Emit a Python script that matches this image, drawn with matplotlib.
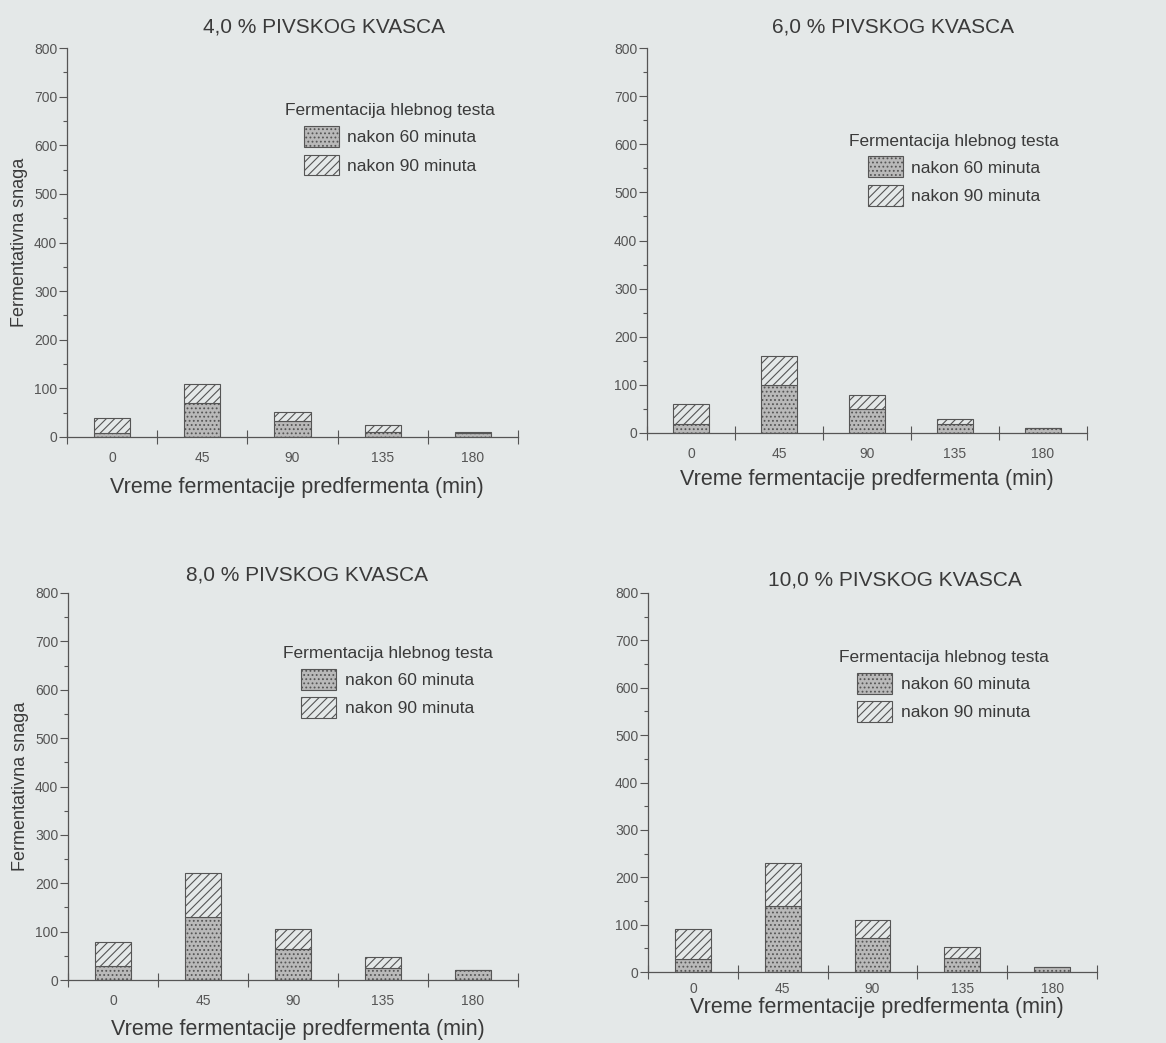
import matplotlib
matplotlib.use("Agg")
import matplotlib.pyplot as plt
from matplotlib.patches import Patch
from matplotlib.ticker import MultipleLocator, FixedLocator, NullFormatter

# Fermentative power of bread dough vs. pre-ferment fermentation time
times = ["0", "45", "90", "135", "180"]
yeast_levels = ["4,0 % PIVSKOG KVASCA", "6,0 % PIVSKOG KVASCA",
                "8,0 % PIVSKOG KVASCA", "10,0 % PIVSKOG KVASCA"]

# dough fermentation after 60 minutes
after60_4 = [8, 70, 32, 10, 8]
after60_6 = [18, 100, 50, 18, 10]
after60_8 = [28, 130, 65, 25, 20]
after60_10 = [28, 140, 72, 30, 10]

# dough fermentation after 90 minutes
after90_4 = [40, 110, 52, 24, 10]
after90_6 = [60, 160, 80, 30, 10]
after90_8 = [78, 222, 105, 48, 20]
after90_10 = [90, 230, 110, 52, 10]

series60 = [after60_4, after60_6, after60_8, after60_10]
series90 = [after90_4, after90_6, after90_8, after90_10]

label60 = "nakon 60 minuta"
label90 = "nakon 90 minuta"
legend_title = "Fermentacija hlebnog testa"
xlabel = "Vreme fermentacije predfermenta (min)"
ylabel = "Fermentativna snaga"

FONT = ["Liberation Sans Narrow", "Liberation Sans", "DejaVu Sans"]
plt.rcParams["font.family"] = FONT
plt.rcParams["hatch.linewidth"] = 0.8

BG = "#e4e8e8"
INK = "#555555"
GREY = "#b9b9b9"

W, H = 1166, 1043
fig = plt.figure(figsize=(W / 100, H / 100), dpi=100, facecolor=BG)

# axes boxes in pixels: (left, right, top, bottom)
boxes = [(67, 518, 48, 437), (647, 1087, 48, 433),
         (68, 518, 593, 980), (648, 1097, 593, 972)]
title_pos = [(0.57, 21), (0.56, 21), (0.53, 18), (0.55, 13)]
xlabel_pos = [(0.51, 50), (0.50, 47), (0.51, 50), (0.51, 36)]
tick_pad = [10, 10, 10, 7]
legend_pos = [(0.465, 0.88), (0.44, 0.80), (0.458, 0.885), (0.405, 0.872)]

for i, (l, r, t, b) in enumerate(boxes):
    ax = fig.add_axes([l / W, 1 - b / H, (r - l) / W, (b - t) / H])
    ax.set_facecolor(BG)
    x = list(range(len(times)))
    v60 = series60[i]
    v90 = series90[i]
    extra = [a - c for a, c in zip(v90, v60)]
    ax.bar(x, v60, width=0.4, color=GREY, edgecolor=INK, linewidth=0.8,
           hatch="....", zorder=2)
    ax.bar(x, extra, bottom=v60, width=0.4, color=BG, edgecolor=INK,
           linewidth=0.8, hatch="////", zorder=2)

    ax.set_xlim(-0.5, 4.5)
    ax.set_ylim(0, 800)
    for s in ("top", "right"):
        ax.spines[s].set_visible(False)
    for s in ("left", "bottom"):
        ax.spines[s].set_color(INK)
        ax.spines[s].set_linewidth(0.9)

    ax.yaxis.set_major_locator(MultipleLocator(100))
    ax.yaxis.set_minor_locator(MultipleLocator(50))
    ax.tick_params(axis="y", which="major", direction="out", length=6,
                   width=0.8, color=INK, labelsize=10, labelcolor="#555555",
                   pad=1)
    ax.tick_params(axis="y", which="minor", direction="out", length=3,
                   width=0.8, color=INK)

    ax.xaxis.set_major_locator(FixedLocator([-0.5, 0.5, 1.5, 2.5, 3.5, 4.5]))
    ax.xaxis.set_major_formatter(NullFormatter())
    ax.xaxis.set_minor_locator(FixedLocator(x))
    ax.set_xticklabels(times, minor=True)
    ax.tick_params(axis="x", which="major", direction="inout", length=10,
                   width=0.8, color=INK)
    ax.tick_params(axis="x", which="minor", length=0, labelsize=10,
                   labelcolor="#555555", pad=tick_pad[i])

    tx, ty = title_pos[i]
    ax.annotate(yeast_levels[i], xy=(tx, 1), xycoords="axes fraction",
                xytext=(0, ty * 0.72), textcoords="offset points",
                ha="center", va="center", fontsize=15, color="#3a3a3a")
    lx, ly = xlabel_pos[i]
    ax.annotate(xlabel, xy=(lx, 0), xycoords="axes fraction",
                xytext=(0, -ly * 0.72), textcoords="offset points",
                ha="center", va="center", fontsize=15.5, color="#3a3a3a")
    if i in (0, 2):
        ax.set_ylabel(ylabel, fontsize=13, color="#3a3a3a", labelpad=4)

    handles = [Patch(facecolor=GREY, edgecolor=INK, hatch="....",
                     linewidth=0.8, label=label60),
               Patch(facecolor=BG, edgecolor=INK, hatch="////",
                     linewidth=0.8, label=label90)]
    leg = ax.legend(handles=handles, title=legend_title, loc="upper left",
                    bbox_to_anchor=legend_pos[i], frameon=False,
                    fontsize=12.5, title_fontsize=12.5, handlelength=2.0,
                    handleheight=1.45, labelspacing=0.45, handletextpad=0.5,
                    borderpad=0)
    for txt in leg.get_texts():
        txt.set_color("#3a3a3a")
    leg.get_title().set_color("#3a3a3a")

fig.savefig("out.png", dpi=100, facecolor=BG)
